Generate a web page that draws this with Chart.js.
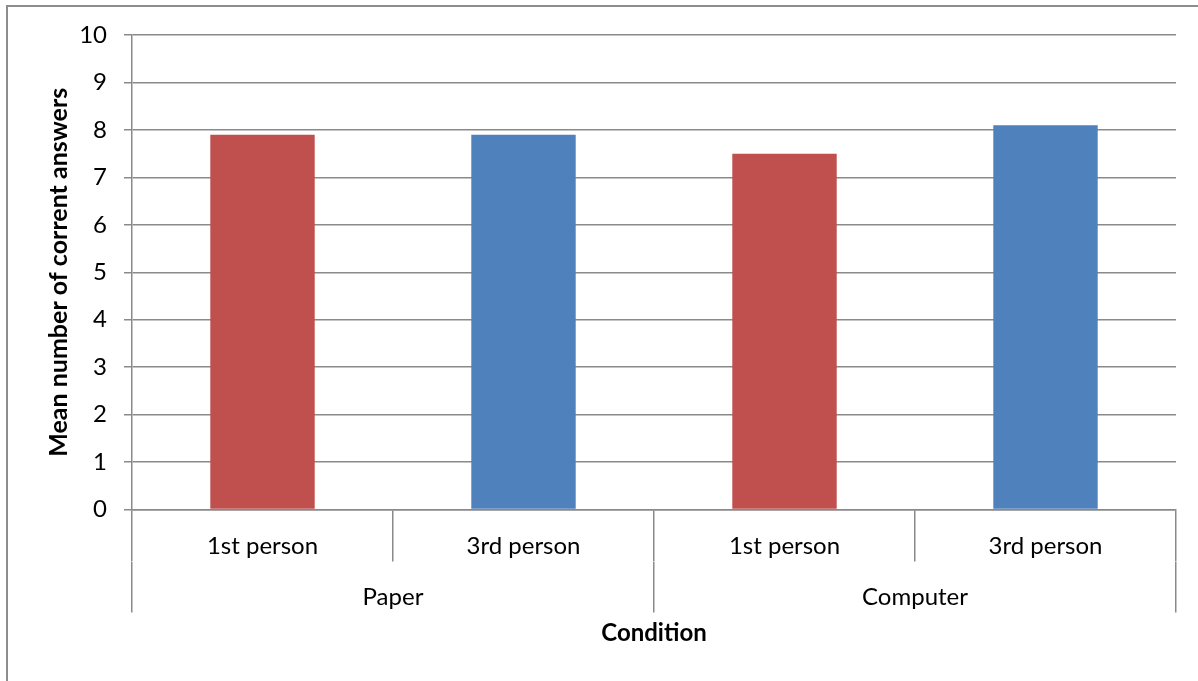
<!DOCTYPE html>
<html>
<head>
<meta charset="utf-8">
<script src="https://cdn.jsdelivr.net/npm/chart.js@4/dist/chart.umd.min.js"></script>
<style>
  html, body { margin: 0; padding: 0; background: #ffffff; overflow: hidden; }
  #frame { position: absolute; left: 6px; top: 5px; width: 1300px; height: 800px;
           border: 2px solid #8d8d8d; box-sizing: border-box; }
  #wrap { position: absolute; left: 0; top: 0; width: 1198px; height: 681px; }
</style>
</head>
<body>
<div id="frame"></div>
<div id="wrap"><canvas id="chart" width="1198" height="681"></canvas></div>
<script>
// Mean correct answers by medium and narrative perspective
const perspectives = ['1st person', '3rd person', '1st person', '3rd person'];
const media = ['Paper', 'Computer'];
const meanCorrect = [7.9, 7.9, 7.5, 8.1];
const yTicks = [0, 1, 2, 3, 4, 5, 6, 7, 8, 9, 10];

const RED = '#C0504D';
const BLUE = '#4F81BD';
const GRID = '#8a8a8a';
const FONT = 'Lato, "Noto Sans", sans-serif';

new Chart(document.getElementById('chart'), {
  type: 'bar',
  data: {
    labels: perspectives,
    datasets: [{
      data: meanCorrect,
      backgroundColor: perspectives.map(p => p.startsWith('1st') ? RED : BLUE),
      borderWidth: 0,
      categoryPercentage: 1.0,
      barPercentage: 0.4
    }]
  },
  options: {
    responsive: false,
    animation: false,
    layout: { padding: { top: 35, right: 22, bottom: 0, left: 0 } },
    plugins: { legend: { display: false }, tooltip: { enabled: false } },
    scales: {
      y: {
        min: 0, max: 10,
        afterBuildTicks: s => { s.ticks = yTicks.map(v => ({ value: v })); },
        afterFit: s => { s.width = 132; },
        ticks: { color: '#000', padding: 17, font: { family: FONT, size: 24 } },
        grid: { color: GRID, lineWidth: 1.5, tickLength: 8 },
        border: { color: GRID, width: 1.5 },
        title: {
          display: true,
          text: 'Mean number of corrent answers',
          color: '#000',
          padding: { top: 44, bottom: 0 },
          font: { family: FONT, size: 25, weight: 'bold' }
        }
      },
      x: {
        position: 'bottom',
        weight: 0,
        offset: true,
        afterFit: s => { s.height = 52; },
        ticks: { color: '#000', padding: -30, maxRotation: 0, font: { family: FONT, size: 24 } },
        grid: { offset: true, drawOnChartArea: false, color: GRID, lineWidth: 1.5, tickLength: 52 },
        border: { color: GRID, width: 1.5 }
      },
      x2: {
        type: 'category',
        labels: media,
        position: 'bottom',
        weight: 1,
        offset: true,
        afterFit: s => { s.height = 119.5; },
        ticks: { color: '#000', padding: -30, maxRotation: 0, font: { family: FONT, size: 24 } },
        grid: { offset: true, drawOnChartArea: false, color: GRID, lineWidth: 1.5, tickLength: 51 },
        border: { display: false },
        title: {
          display: true,
          text: 'Condition',
          color: '#000',
          padding: { top: 0, bottom: 33 },
          font: { family: FONT, size: 24, weight: 'bold' }
        }
      }
    }
  }
});
</script>
</body>
</html>
